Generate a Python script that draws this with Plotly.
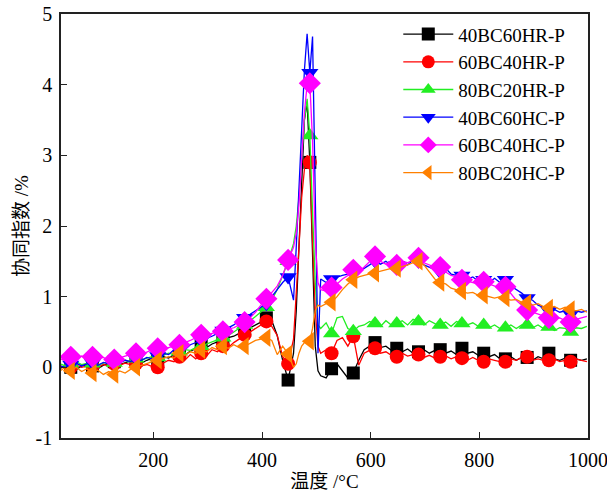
import plotly.graph_objects as go

# Temperature grid (°C)
T = [28, 38, 48, 58, 68, 78, 88, 98, 108, 118, 128, 138, 148, 158, 168, 178, 188, 198,
     208, 218, 228, 238, 248, 258, 268, 278, 288, 298, 308, 318, 328, 338, 348, 358,
     368, 378, 388, 398, 408, 418, 428, 438, 448, 458,
     463, 468, 473, 478, 483, 488, 493, 498, 503, 508,
     518, 528, 538, 548, 558, 568, 578, 588, 598, 608, 618, 628, 638, 648, 658, 668,
     678, 688, 698, 708, 718, 728, 738, 748, 758, 768, 778, 788, 798, 808, 818, 828,
     838, 848, 858, 868, 878, 888, 898, 908, 918, 928, 938, 948, 958, 968, 978, 988, 998]

# Temperatures where symbols are drawn
MARK_T = [48, 88, 128, 168, 208, 248, 288, 328, 368, 408, 448, 488, 528, 568, 608,
          648, 688, 728, 768, 808, 848, 888, 928, 968]

X_TICKS = [200, 400, 600, 800, 1000]
Y_TICKS = [-1, 0, 1, 2, 3, 4, 5]
Y_TICK_TEXT = ["-1", "0", "1", "2", "3", "4", "5"]

y_40BC60HR = [-0.02, 0.03, 0.0, -0.03, 0.02, 0.04, 0.02, -0.02, 0.03, 0.06, 0.08, 0.04, 0.07, 0.09, 0.1, 0.06, 0.1, 0.13,
              0.12, 0.15, 0.13, 0.18, 0.2, 0.17, 0.23, 0.26, 0.3, 0.28, 0.33, 0.36, 0.38, 0.42, 0.44, 0.48,
              0.52, 0.56, 0.6, 0.64, 0.7, 0.66, 0.45, 0.1, -0.18, 0.2,
              0.8, 1.6, 2.6, 3.5, 3.75, 2.9, 1.5, 0.3, -0.05, -0.12,
              -0.15, -0.02, 0.05, -0.05, -0.15, -0.08, 0.1, 0.25, 0.3, 0.35, 0.28, 0.3, 0.24, 0.27, 0.22, 0.26,
              0.2, 0.22, 0.25, 0.2, 0.24, 0.25, 0.2, 0.23, 0.18, 0.27, 0.2, 0.22, 0.17, 0.2, 0.15, 0.18,
              0.12, 0.12, 0.15, 0.1, 0.14, 0.14, 0.1, 0.15, 0.12, 0.2, 0.12, 0.1, 0.13, 0.1, 0.12, 0.1, 0.12]

y_60BC40HR = [0.02, 0.0, 0.0, 0.03, 0.0, 0.02, 0.02, 0.0, 0.04, 0.02, 0.05, 0.03, 0.06, 0.04, 0.05, 0.02, 0.04, 0.01,
              0.0, 0.06, 0.1, 0.08, 0.15, 0.1, 0.18, 0.12, 0.2, 0.16, 0.25, 0.22, 0.3, 0.28, 0.35, 0.4,
              0.46, 0.5, 0.55, 0.6, 0.65, 0.58, 0.45, 0.15, 0.05, 0.4,
              1.0, 1.7, 2.4, 2.8, 3.0, 2.9, 1.8, 0.8, 0.3, 0.2,
              0.25, 0.2, 0.38, 0.42, 0.3, 0.44, 0.03, 0.2, 0.24, 0.27, 0.2, 0.22, 0.17, 0.15, 0.2, 0.16,
              0.18, 0.18, 0.14, 0.17, 0.13, 0.15, 0.16, 0.12, 0.15, 0.13, 0.1, 0.14, 0.1, 0.08, 0.12, 0.1,
              0.08, 0.08, 0.12, 0.1, 0.14, 0.15, 0.1, 0.12, 0.1, 0.1, 0.12, 0.08, 0.1, 0.08, 0.12, 0.1, 0.08]

y_80BC20HR = [0.05, 0.02, 0.05, 0.08, 0.04, 0.06, 0.05, 0.03, 0.06, 0.08, 0.06, 0.09, 0.1, 0.08, 0.12, 0.1, 0.13, 0.15,
              0.14, 0.17, 0.2, 0.18, 0.22, 0.25, 0.24, 0.28, 0.3, 0.33, 0.35, 0.38, 0.42, 0.45, 0.5, 0.55,
              0.6, 0.66, 0.72, 0.78, 0.85, 0.95, 1.1, 1.3, 1.5, 1.75,
              2.0, 2.4, 2.9, 3.5, 3.8, 3.28, 2.2, 1.2, 0.6, 0.55,
              0.63, 0.48, 0.7, 0.72, 0.55, 0.51, 0.58, 0.6, 0.65, 0.62, 0.58, 0.66, 0.6, 0.62, 0.66, 0.6,
              0.68, 0.65, 0.6, 0.66, 0.62, 0.6, 0.64, 0.58, 0.65, 0.62, 0.6, 0.63, 0.58, 0.6, 0.56, 0.6,
              0.55, 0.56, 0.6, 0.55, 0.6, 0.6, 0.56, 0.6, 0.55, 0.57, 0.52, 0.56, 0.55, 0.5, 0.56, 0.55, 0.58]

y_40BC60HC = [0.02, 0.0, 0.04, 0.06, 0.02, 0.05, 0.06, 0.03, 0.07, 0.05, 0.08, 0.06, 0.1, 0.08, 0.12, 0.1, 0.14, 0.12,
              0.16, 0.2, 0.18, 0.25, 0.28, 0.25, 0.32, 0.35, 0.38, 0.4, 0.44, 0.48, 0.52, 0.56, 0.6, 0.66,
              0.7, 0.75, 0.8, 0.85, 0.9, 1.0, 1.1, 1.2, 1.28, 0.95,
              1.7, 2.6, 3.4, 4.2, 4.72, 4.17, 4.68, 2.5, 0.2, 1.25,
              1.2, 1.25, 1.28, 1.3, 1.32, 1.35, 1.38, 1.4, 1.45, 1.5, 1.46, 1.5, 1.44, 1.45, 1.5, 1.45,
              1.52, 1.5, 1.45, 1.42, 1.38, 1.35, 1.4, 1.32, 1.3, 1.3, 1.25, 1.28, 1.22, 1.24, 1.2, 1.26,
              1.2, 1.24, 1.15, 1.1, 1.05, 0.98, 0.95, 0.88, 0.85, 0.8, 0.82, 0.78, 0.8, 0.75, 0.8, 0.78, 0.8]

y_60BC40HC = [0.12, 0.1, 0.15, 0.12, 0.16, 0.13, 0.15, 0.12, 0.14, 0.1, 0.11, 0.14, 0.16, 0.18, 0.2, 0.18, 0.22, 0.25,
              0.27, 0.25, 0.28, 0.3, 0.32, 0.35, 0.38, 0.42, 0.46, 0.44, 0.48, 0.5, 0.51, 0.54, 0.56, 0.6,
              0.64, 0.7, 0.78, 0.88, 0.97, 1.05, 1.15, 1.3, 1.52, 1.7,
              1.9, 2.3, 2.9, 3.6, 4.0, 4.02, 3.2, 1.8, 1.2, 1.1,
              1.08, 1.13, 1.18, 1.25, 1.3, 1.38, 1.35, 1.42, 1.5, 1.57, 1.5, 1.46, 1.5, 1.45, 1.5, 1.48,
              1.52, 1.55, 1.48, 1.45, 1.42, 1.42, 1.35, 1.3, 1.28, 1.24, 1.22, 1.2, 1.18, 1.21, 1.18, 1.15,
              1.12, 1.14, 1.05, 0.95, 0.88, 0.81, 0.78, 0.75, 0.72, 0.7, 0.68, 0.7, 0.66, 0.64, 0.68, 0.7, 0.72]

y_80BC20HC = [-0.05, 0.0, -0.05, 0.0, -0.06, -0.02, -0.08, -0.04, -0.1, -0.06, -0.1, -0.05, -0.08, -0.03, 0.0, 0.03, 0.05, 0.08,
              0.1, 0.12, 0.15, 0.13, 0.2, 0.17, 0.22, 0.2, 0.25, 0.22, 0.28, 0.25, 0.3, 0.27, 0.32, 0.28,
              0.3, 0.34, 0.38, 0.4, 0.42, 0.38, 0.18, 0.3, 0.19, 0.0,
              0.05, 0.2, 0.3, 0.35, 0.38, 0.37, 0.55, 0.8, 0.88, 0.86,
              0.9, 0.92, 1.0, 1.1, 1.18, 1.24, 1.28, 1.3, 1.32, 1.33, 1.36, 1.38, 1.4, 1.4, 1.42, 1.45,
              1.48, 1.5, 1.45, 1.35, 1.25, 1.2, 1.18, 1.12, 1.1, 1.08, 1.05, 1.06, 1.02, 1.02, 1.0, 0.98,
              1.0, 0.98, 0.95, 0.96, 0.92, 0.91, 0.88, 0.9, 0.86, 0.84, 0.86, 0.82, 0.85, 0.82, 0.8, 0.82, 0.78]

NAMES = ["40BC60HR-P", "60BC40HR-P", "80BC20HR-P", "40BC60HC-P", "60BC40HC-P", "80BC20HC-P"]
SERIES = [y_40BC60HR, y_60BC40HR, y_80BC20HR, y_40BC60HC, y_60BC40HC, y_80BC20HC]
COLORS = ["#000000", "#FF0000", "#22EE22", "#0000FF", "#FF00FF", "#FF8000"]
SYMBOLS = ["square", "circle", "triangle-up", "triangle-down", "diamond", "triangle-left"]
SIZES = [13, 14, 15, 15, 17, 16]

SERIF = "Liberation Serif, Times New Roman, serif"
CJK = "Liberation Serif, Noto Sans CJK SC, serif"

fig = go.Figure()
for name, ys, col, sym, sz in zip(NAMES, SERIES, COLORS, SYMBOLS, SIZES):
    fig.add_trace(go.Scatter(x=T, y=ys, mode="lines", line=dict(color=col, width=1.3),
                             showlegend=False, hoverinfo="skip"))
    mx = [t for t in T if t in MARK_T]
    my = [v for t, v in zip(T, ys) if t in MARK_T]
    fig.add_trace(go.Scatter(x=mx, y=my, mode="markers",
                             marker=dict(symbol=sym, size=sz, color=col, line=dict(width=0)),
                             showlegend=False))
for name, col, sym, sz in zip(NAMES, COLORS, SYMBOLS, SIZES):
    fig.add_trace(go.Scatter(x=[None], y=[None], mode="lines+markers", name=name,
                             line=dict(color=col, width=1.3),
                             marker=dict(symbol=sym, size=13, color=col, line=dict(width=0))))

fig.update_layout(
    width=607, height=495,
    margin=dict(l=61, r=19, t=14, b=57, autoexpand=False),
    paper_bgcolor="white", plot_bgcolor="white",
    font=dict(family=SERIF, size=20, color="black"),
    showlegend=True,
    legend=dict(x=0.64, y=0.997, xanchor="left", yanchor="top",
                bgcolor="rgba(0,0,0,0)", borderwidth=0,
                font=dict(family=SERIF, size=19, color="black"),
                itemwidth=50, tracegroupgap=0),
    xaxis=dict(range=[30, 1000], tickvals=X_TICKS, automargin=False,
               ticks="inside", ticklen=6, tickwidth=1.3, tickcolor="#222",
               showline=True, linecolor="#222", linewidth=1.6, mirror=True,
               showgrid=False, zeroline=False, ticklabeloverflow="allow",
               ticklabelstandoff=3,
               tickfont=dict(family=SERIF, size=20),
               title=dict(text="温度 /°C", font=dict(family=CJK, size=19), standoff=5)),
    yaxis=dict(range=[-1, 5], tickvals=Y_TICKS, ticktext=Y_TICK_TEXT, automargin=False,
               ticks="inside", ticklen=6, tickwidth=1.3, tickcolor="#222",
               showline=True, linecolor="#222", linewidth=1.6, mirror=True,
               showgrid=False, zeroline=False, ticklabelstandoff=3,
               tickfont=dict(family=SERIF, size=20),
               title=dict(text="协同指数 /%", font=dict(family=CJK, size=19), standoff=2)),
)

fig.write_html("out.html")
